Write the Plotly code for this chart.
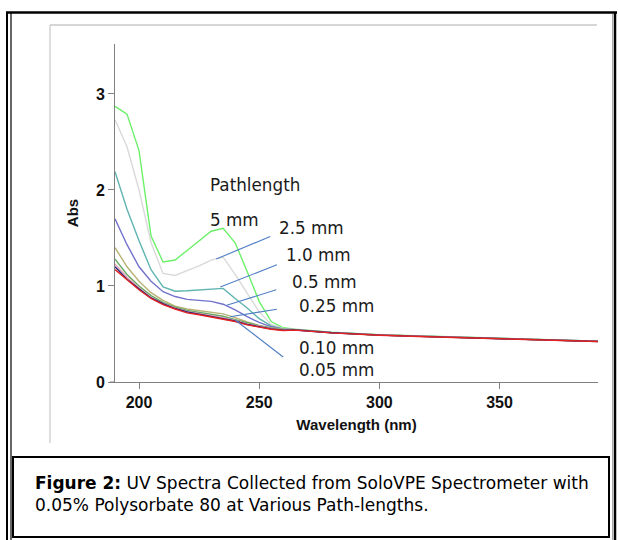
import plotly.graph_objects as go

# ---------------- data ----------------
wavelength = [190, 195, 200, 205, 210, 215, 220, 225, 230, 235, 240, 245, 250, 255, 260,
              265, 280, 300, 320, 340, 360, 380, 391]

abs_5mm   = [2.87, 2.79, 2.41, 1.52, 1.25, 1.27, 1.37, 1.47, 1.57, 1.60, 1.45, 1.15, 0.84, 0.63, 0.565,
             0.550, 0.518, 0.492, 0.477, 0.462, 0.449, 0.434, 0.426]
abs_2_5mm = [2.73, 2.45, 2.00, 1.45, 1.13, 1.11, 1.16, 1.21, 1.27, 1.30, 1.12, 0.93, 0.73, 0.60, 0.558,
             0.547, 0.516, 0.490, 0.475, 0.460, 0.447, 0.432, 0.424]
abs_1_0mm = [2.19, 1.80, 1.47, 1.17, 0.99, 0.945, 0.95, 0.96, 0.97, 0.975, 0.87, 0.77, 0.66, 0.585, 0.552,
             0.545, 0.515, 0.490, 0.475, 0.460, 0.447, 0.432, 0.424]
abs_0_5mm = [1.70, 1.43, 1.20, 1.05, 0.94, 0.89, 0.86, 0.85, 0.84, 0.81, 0.75, 0.68, 0.62, 0.575, 0.55,
             0.544, 0.515, 0.490, 0.475, 0.460, 0.447, 0.432, 0.424]
abs_0_25mm = [1.40, 1.20, 1.05, 0.93, 0.85, 0.79, 0.76, 0.745, 0.73, 0.71, 0.67, 0.625, 0.59, 0.565, 0.55,
              0.544, 0.515, 0.490, 0.475, 0.460, 0.447, 0.432, 0.424]
abs_0_10mm = [1.28, 1.12, 1.00, 0.90, 0.83, 0.78, 0.745, 0.725, 0.705, 0.685, 0.65, 0.615, 0.585, 0.56, 0.545,
              0.543, 0.514, 0.489, 0.474, 0.459, 0.446, 0.431, 0.423]
abs_0_10mm_b = [1.23, 1.09, 0.98, 0.88, 0.82, 0.77, 0.735, 0.715, 0.69, 0.67, 0.64, 0.605, 0.58, 0.555, 0.54,
                0.542, 0.514, 0.489, 0.474, 0.459, 0.446, 0.431, 0.423]
abs_0_05mm_b = [1.20, 1.07, 0.97, 0.875, 0.815, 0.765, 0.73, 0.705, 0.68, 0.66, 0.635, 0.60, 0.575, 0.553, 0.54,
                0.542, 0.513, 0.488, 0.473, 0.458, 0.445, 0.430, 0.422]
abs_0_05mm = [1.17, 1.06, 0.96, 0.87, 0.805, 0.76, 0.72, 0.70, 0.675, 0.655, 0.63, 0.595, 0.57, 0.55, 0.537,
              0.540, 0.512, 0.487, 0.472, 0.457, 0.444, 0.429, 0.421]

series_names = ["5 mm", "2.5 mm", "1.0 mm", "0.5 mm", "0.25 mm", "0.10 mm", "0.10 mm (b)", "0.05 mm (b)", "0.05 mm"]
series_values = [abs_5mm, abs_2_5mm, abs_1_0mm, abs_0_5mm, abs_0_25mm, abs_0_10mm, abs_0_10mm_b, abs_0_05mm_b, abs_0_05mm]
series_colors = ["#6cf06a", "#d9d9d9", "#5fb4b0", "#7272cc", "#b8b274", "#62a862", "#e6a2b4", "#23237e", "#e32222"]

x_ticks = [200, 250, 300, 350]
y_ticks = [0, 1, 2, 3]

# label text, label anchor (wavelength, abs), leader line (from curve point to label)
label_texts = ["Pathlength", "5 mm", "2.5 mm", "1.0 mm", "0.5 mm", "0.25 mm", "0.10 mm", "0.05 mm"]
label_x = [228.8, 228.8, 257.6, 260.3, 263.0, 265.6, 265.6, 265.6]
label_y = [2.05, 1.69, 1.60, 1.32, 1.045, 0.79, 0.35, 0.13]
leader_from_x = [232.1, 233.8, 236.5, 237.9, 240.0]
leader_from_y = [1.28, 0.99, 0.80, 0.68, 0.646]
leader_to_x = [254.6, 257.4, 257.1, 257.4, 260.0]
leader_to_y = [1.515, 1.22, 0.96, 0.757, 0.26]

# ---------------- figure ----------------
W, H = 618, 540
ML, MR, MT, MB = 115, 20, 44, 158
PW, PH = W - ML - MR, H - MT - MB


def px(xp):
    return (xp - ML) / PW


def py(yp):
    return (H - MB - yp) / PH


fig = go.Figure()
for name, vals, col in zip(series_names, series_values, series_colors):
    fig.add_trace(go.Scatter(x=wavelength, y=vals, mode="lines", name=name,
                             line=dict(color=col, width=1.4), showlegend=False,
                             hoverinfo="x+y+name"))

shapes = []
# frame decorations
shapes.append(dict(type="line", xref="paper", yref="paper", x0=px(7), x1=px(7), y0=py(12), y1=py(540),
                   line=dict(color="#000", width=2)))
shapes.append(dict(type="line", xref="paper", yref="paper", x0=px(11), x1=px(11), y0=py(12), y1=py(540),
                   line=dict(color="#000", width=1.2)))
shapes.append(dict(type="line", xref="paper", yref="paper", x0=px(6), x1=px(617), y0=py(12.5), y1=py(12.5),
                   line=dict(color="#000", width=2.5)))
shapes.append(dict(type="line", xref="paper", yref="paper", x0=px(615), x1=px(615), y0=py(12), y1=py(540),
                   line=dict(color="#000", width=2.5)))
shapes.append(dict(type="line", xref="paper", yref="paper", x0=px(612.5), x1=px(612.5), y0=py(14), y1=py(540),
                   line=dict(color="#aaa", width=1)))
# light gray inner frame
shapes.append(dict(type="line", xref="paper", yref="paper", x0=px(50), x1=px(597), y0=py(25), y1=py(25),
                   line=dict(color="#c8c8c8", width=1.5)))
shapes.append(dict(type="line", xref="paper", yref="paper", x0=px(50), x1=px(50), y0=py(25), y1=py(443),
                   line=dict(color="#c8c8c8", width=1.2)))
# caption box
shapes.append(dict(type="rect", xref="paper", yref="paper", x0=px(13), x1=px(609), y0=py(457), y1=py(537),
                   line=dict(color="#000", width=2), fillcolor="rgba(0,0,0,0)"))
# x-axis small extension left of y-axis
shapes.append(dict(type="line", xref="paper", yref="paper", x0=px(110), x1=px(115), y0=0, y1=0,
                   line=dict(color="#808080", width=1)))
# leader lines
for fx, fy, tx, ty in zip(leader_from_x, leader_from_y, leader_to_x, leader_to_y):
    shapes.append(dict(type="line", xref="x", yref="y", x0=fx, y0=fy, x1=tx, y1=ty,
                       line=dict(color="#4f7fc4", width=1.1)))

annotations = []
for t, lx, ly in zip(label_texts, label_x, label_y):
    annotations.append(dict(text=t, x=lx, y=ly, xref="x", yref="y", xanchor="left", yanchor="middle",
                            showarrow=False, font=dict(family="DejaVu Sans", size=16.8, color="#1a1a1a")))

annotations.append(dict(
    text="<b>Figure 2:</b> UV Spectra Collected from SoloVPE Spectrometer with<br>0.05% Polysorbate 80 at Various Path-lengths.",
    x=px(33), y=py(471), xref="paper", yref="paper", xanchor="left", yanchor="top", align="left",
    showarrow=False, font=dict(family="DejaVu Sans", size=17, color="#000")))

axis_common = dict(showline=True, linecolor="#808080", linewidth=1, showgrid=False, zeroline=False,
                   ticks="outside", ticklen=6, tickcolor="#808080", tickwidth=1,
                   tickfont=dict(family="Liberation Sans", size=16, color="#111", weight="bold"))

fig.update_layout(
    width=W, height=H,
    margin=dict(l=ML, r=MR, t=MT, b=MB, pad=0),
    paper_bgcolor="white", plot_bgcolor="white",
    xaxis=dict(range=[190, 391], tickvals=x_ticks,
               title=dict(text="Wavelength (nm)", standoff=9,
                          font=dict(family="Liberation Sans", size=15, color="#111", weight="bold")),
               **axis_common),
    yaxis=dict(range=[0, 3.52], tickvals=y_ticks,
               title=dict(text="Abs", standoff=13,
                          font=dict(family="Liberation Sans", size=15, color="#111", weight="bold")),
               **axis_common),
    shapes=shapes,
    annotations=annotations,
)

fig.write_html("out.html", config={"displayModeBar": False},
               post_script="document.body.style.margin='0px';document.body.style.padding='0px';")
